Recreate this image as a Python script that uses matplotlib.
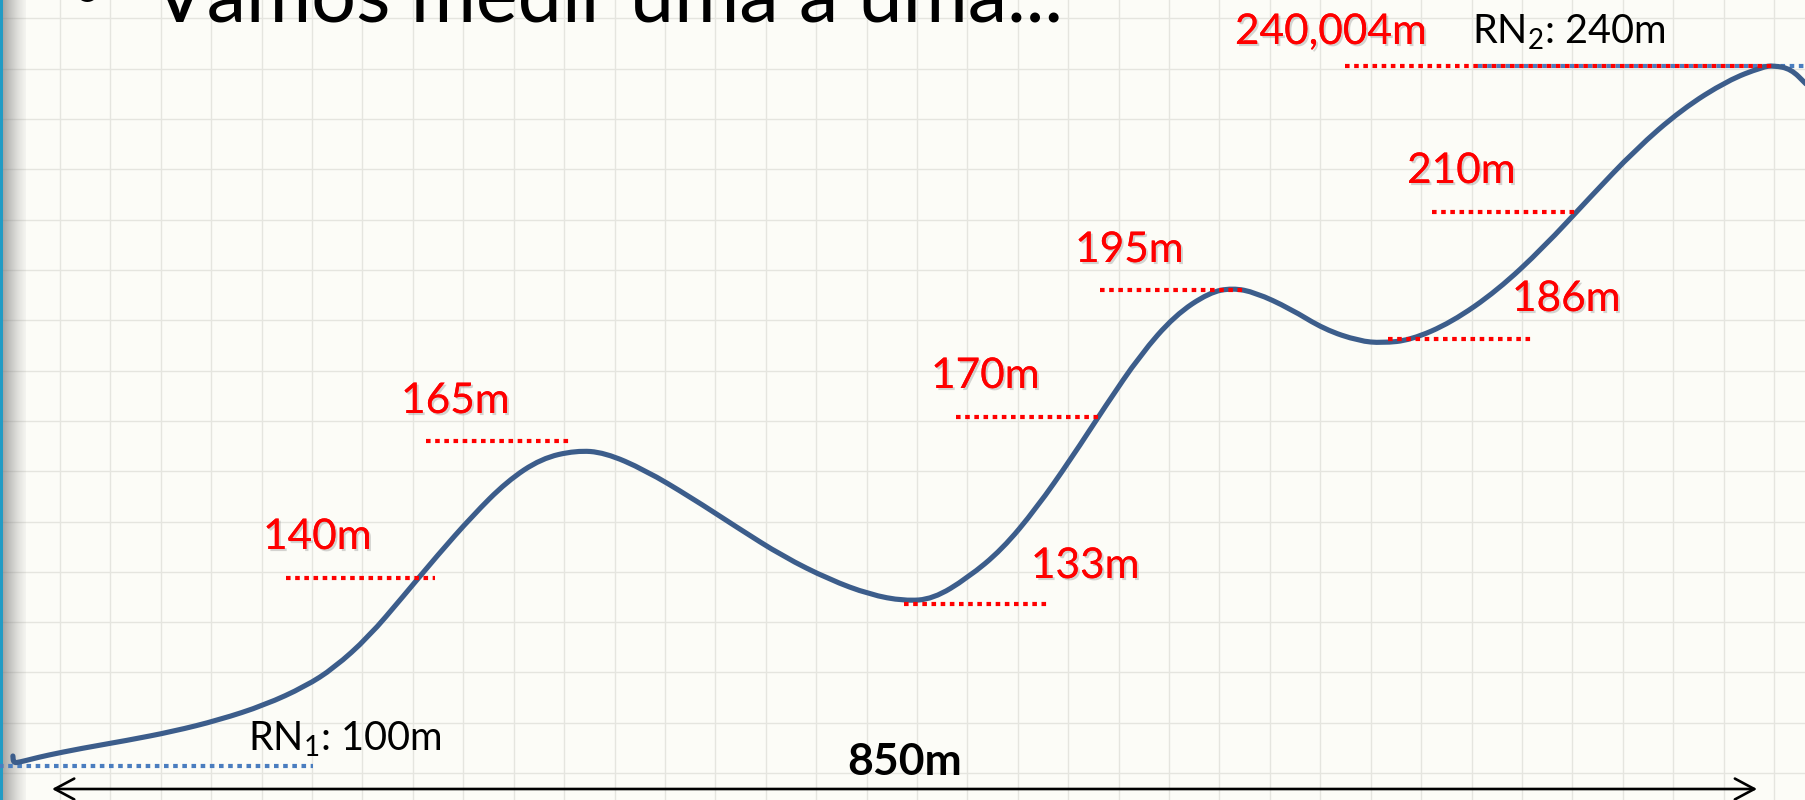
import numpy as np
import matplotlib
matplotlib.use("Agg")
import matplotlib.pyplot as plt
import matplotlib.patheffects as pe
from matplotlib.path import Path
from matplotlib.patches import PathPatch

plt.rcParams['font.family'] = ['Lato', 'DejaVu Sans']
plt.rcParams['mathtext.fontset'] = 'custom'
plt.rcParams['mathtext.rm'] = 'Lato'
plt.rcParams['mathtext.it'] = 'Lato'

# ---------------- data (distance in m, elevation in m) ----------------
curve_d = [-19.5, -19.2, -16, -10, -2.9, 14.3, 37.2, 60.2, 83.2, 106.1, 126.2, 140.6, 157.8,
           175.0, 192.3, 209.5, 226.7, 243.9, 261.2, 275.5, 295.6, 318.6, 341.6, 364.5, 387.5,
           407.6, 424.8, 439.2, 456.4, 473.6, 490.8, 508.1, 525.3, 542.5, 559.7, 576.9, 588.4,
           599.9, 617.1, 634.4, 651.6, 663.1, 677.4, 697.5, 720.5, 743.5, 766.4, 789.4, 812.4,
           835.3, 852.6, 858.3, 866.9, 874.4]
curve_e = [102.0, 100.6, 100.8, 101.4, 102.1, 103.5, 105.1, 106.9, 109.2, 112.2, 115.9, 119.6,
           125.8, 133.9, 142.2, 150.0, 156.9, 161.5, 163.1, 162.7, 159.2, 153.7, 147.7, 141.9,
           137.3, 134.3, 133.0, 133.4, 137.6, 143.3, 151.6, 161.5, 172.1, 182.2, 190.1, 194.7,
           195.6, 194.7, 191.5, 187.3, 185.0, 184.6, 185.2, 188.7, 195.1, 203.7, 213.6, 223.3,
           231.3, 237.1, 239.8, 240.1, 239.4, 236.4]

# measured levels (red dotted guides)
level_labels = ["140m", "165m", "133m", "170m", "195m", "186m", "210m", "240,004m"]
level_elev = [137.6, 165.0, 132.4, 169.8, 195.2, 185.4, 210.8, 240.0]
level_x0 = [116.7, 186.4, 424.7, 450.6, 522.4, 666.0, 687.9, 644.6]
level_x1 = [190.9, 259.2, 497.5, 523.4, 594.2, 738.8, 760.7, 857.4]
label_x = [105.2, 174.0, 488.0, 438.2, 510.0, 727.8, 675.5, 589.7]
label_base = [143.4, 170.6, 137.6, 175.6, 200.8, 191.0, 216.6, 244.4]

# benchmarks (blue dotted)
rn_labels = [r"RN$_{1}$: 100m", r"RN$_{2}$: 240m"]
rn_elev = [100.0, 240.0]
rn_x0 = [-27.0, 710.9]
rn_x1 = [130.1, 876.0]
rn_label_x = [97.7, 707.9]
rn_label_base = [103.0, 244.4]

total_distance = 850
total_label = "850m"
title = "Vamos medir uma a uma..."

# ---------------- figure ----------------
BG = '#FCFCF7'
fig = plt.figure(figsize=(18.06, 8.0), dpi=100, facecolor=BG)
ax = fig.add_axes([0, 0, 1, 1], facecolor=BG)
xlim = ((0 - 52) / 2.006, (1806 - 52) / 2.006)
ylim = (100 + (766 - 800) / 5, 100 + 766 / 5)

# grid
ax.set_xticks(np.arange(4.0, 880, 25.13))
ax.set_yticks(np.arange(98.6, 260, 10.06))
ax.grid(True, color='#E5E5DF', lw=1.0)
ax.set_axisbelow(True)
ax.tick_params(length=0, labelbottom=False, labelleft=False)
for s in ax.spines.values():
    s.set_visible(False)

# left slide-edge strip with shadow
w = 26
rgba = np.zeros((1, w, 4))
for i in range(w):
    if i < 3:
        rgba[0, i] = [0.13, 0.61, 0.77, 1.0]
    else:
        t = (i - 3) / (w - 3)
        rgba[0, i] = [0.5, 0.5, 0.5, 0.62 * (1 - t) ** 1.3 + 0.06]
ax.imshow(rgba, extent=[xlim[0], xlim[0] + w / 2.006, ylim[0], ylim[1]],
          aspect='auto', zorder=0.8, interpolation='bilinear')

# blue benchmark lines
for x0, x1, e in zip(rn_x0, rn_x1, rn_elev):
    ax.plot([x0, x1], [e, e], color='#4A7DBF', lw=3.0, ls=(0, (1.1, 1.1)),
            dash_capstyle='butt', zorder=2)

# curve: smooth path through the read points (quadratic B-spline rendering)
pts = np.column_stack([curve_d, curve_e])
mids = (pts[:-1] + pts[1:]) / 2
verts = [pts[0], mids[0]]
codes = [Path.MOVETO, Path.LINETO]
for i in range(1, len(pts) - 1):
    verts += [pts[i], mids[i]]
    codes += [Path.CURVE3, Path.CURVE3]
verts.append(pts[-1])
codes.append(Path.LINETO)
ax.add_patch(PathPatch(Path(verts, codes), fill=False, edgecolor='#3C5D8B', lw=3.7,
                       capstyle='round', joinstyle='round', zorder=3))

# red measured lines
for x0, x1, e in zip(level_x0, level_x1, level_elev):
    ax.plot([x0, x1], [e, e], color='#FF0000', lw=3.0, ls=(0, (1.1, 1.1)),
            dash_capstyle='butt', zorder=4)

shadow = [pe.withSimplePatchShadow(offset=(1.5, -1.5), shadow_rgbFace='#888888', alpha=0.35),
          pe.Normal()]
for t, x, b in zip(level_labels, label_x, label_base):
    ax.text(x, b, t, color='#FF0000', fontsize=30.5, ha='left', va='baseline',
            path_effects=shadow, zorder=5)

for t, x, b in zip(rn_labels, rn_label_x, rn_label_base):
    ax.text(x, b, t, color='black', fontsize=28.5, ha='left', va='baseline', zorder=5)

# distance arrow
arrow_e = 100 + (766 - 789) / 5
ax.annotate('', xy=(total_distance, arrow_e), xytext=(0, arrow_e),
            arrowprops=dict(arrowstyle='<->,head_length=1.4,head_width=0.75',
                            color='black', lw=1.9, shrinkA=0, shrinkB=0), zorder=5)
ax.text(total_distance / 2, 98.2, total_label, fontsize=32, fontweight='bold',
        ha='center', va='baseline', color='black', zorder=5)

# slide title (cut off at the top, as in the slide)
tt = ax.text(50.3, 248.8, title, fontsize=60, ha='left', va='baseline', color='black', zorder=5)
fig.canvas.draw()
r = fig.canvas.get_renderer()
wpx = tt.get_window_extent(r).width
fs = 60 * 910 / wpx
tt.set_fontsize(fs)
ax.text(17.4, 251.5, "•", fontsize=fs * 0.8, ha='center', va='baseline',
        color='black', zorder=5)

ax.set_xlim(*xlim)
ax.set_ylim(*ylim)
fig.savefig("out.png", dpi=100, facecolor=BG)
